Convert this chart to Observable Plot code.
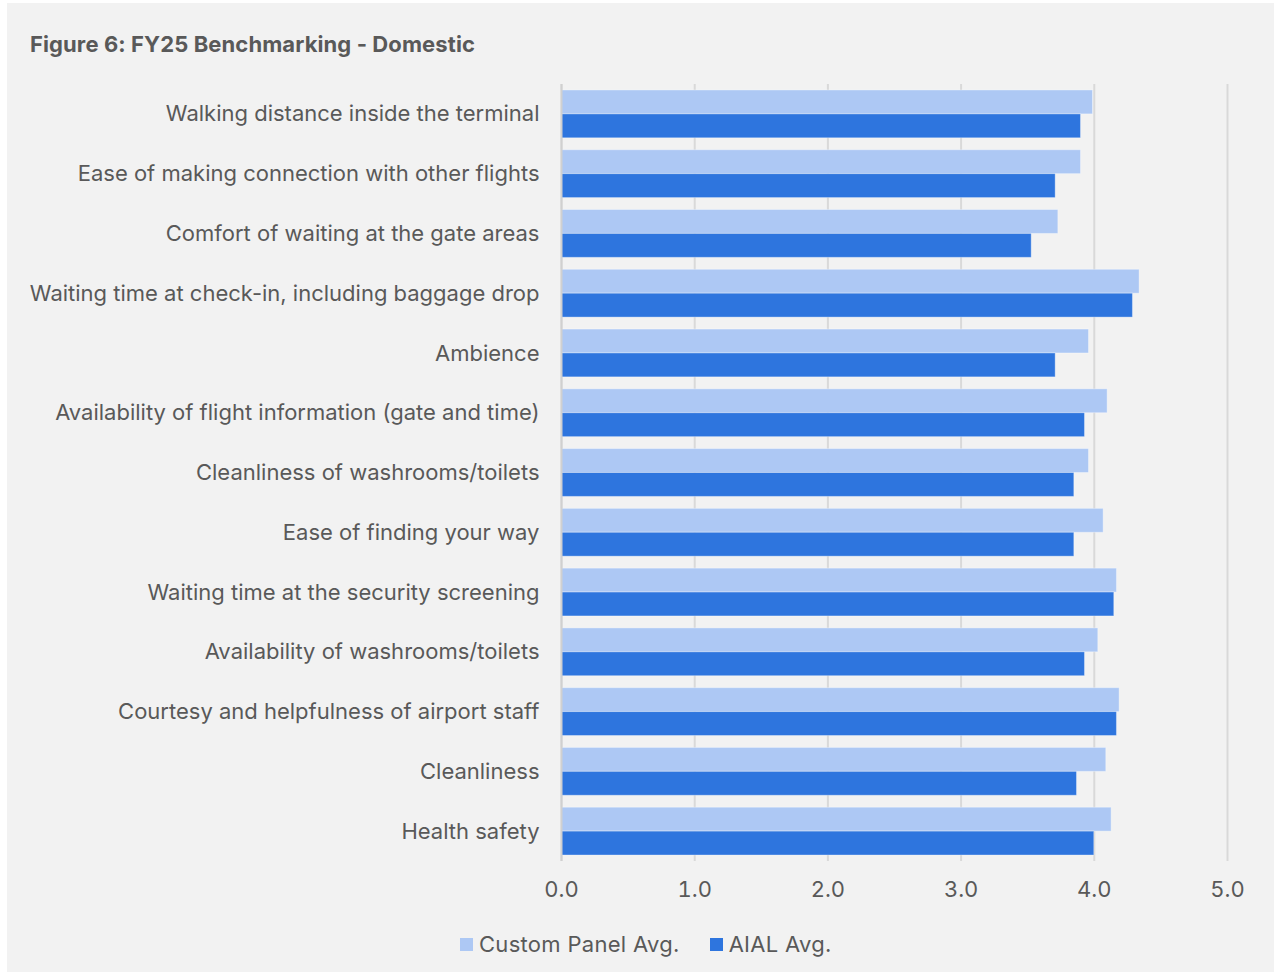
<!DOCTYPE html>
<html>
<head>
<meta charset="utf-8">
<script src="https://cdn.jsdelivr.net/npm/d3@7"></script>
<script src="https://cdn.jsdelivr.net/npm/@observablehq/plot@0.6"></script>
<style>
  html, body { margin: 0; padding: 0; background: #ffffff; }
  #panel { position: absolute; left: 7px; top: 3px; width: 1267px; height: 969px; background: #f2f2f2; font-family: Inter, "Noto Sans", sans-serif; color: #595959; }
  #title { position: absolute; left: 23px; top: 28px; font-size: 22px; font-weight: 700; color: #595959; letter-spacing: 0.1px; }
  #chart { position: absolute; left: 0; top: 57px; }
  #legend { position: absolute; left: 453px; top: 928px; font-size: 22px; display: flex; align-items: center; color: #595959; letter-spacing: 0.3px; }
  .sw { display: inline-block; width: 13px; height: 13px; margin-right: 6px; }
  .item { display: flex; align-items: center; margin-right: 30px; }
</style>
</head>
<body>
<div id="panel">
  <div id="title">Figure 6: FY25 Benchmarking - Domestic</div>
  <div id="chart"></div>
  <div id="legend"></div>
</div>
<script>
const categories = [
  "Walking distance inside the terminal",
  "Ease of making connection with other flights",
  "Comfort of waiting at the gate areas",
  "Waiting time at check-in, including baggage drop",
  "Ambience",
  "Availability of flight information (gate and time)",
  "Cleanliness of washrooms/toilets",
  "Ease of finding your way",
  "Waiting time at the security screening",
  "Availability of washrooms/toilets",
  "Courtesy and helpfulness of airport staff",
  "Cleanliness",
  "Health safety"
];
const customPanelAvg = [3.99, 3.90, 3.73, 4.34, 3.96, 4.10, 3.96, 4.07, 4.17, 4.03, 4.19, 4.09, 4.13];
const aialAvg        = [3.90, 3.71, 3.53, 4.29, 3.71, 3.93, 3.85, 3.85, 4.15, 3.93, 4.17, 3.87, 4.00];
const seriesNames = ["Custom Panel Avg.", "AIAL Avg."];
const seriesColors = ["#adc8f4", "#2e75de"];
const xTicks = [0, 1, 2, 3, 4, 5];

const rows = categories.map((c, i) => ({category: c, custom: customPanelAvg[i], aial: aialAvg[i]}));

const width = 1267, height = 851;
const marginTop = 24, marginBottom = 50, marginLeft = 554, marginRight = 47;
const padInner = 0.2, padOuter = 0.1;
const step = (height - marginTop - marginBottom) / (categories.length - padInner + 2 * padOuter);
const half = step * (1 - padInner) / 2;

const chart = Plot.plot({
  width, height, marginTop, marginBottom, marginLeft, marginRight,
  style: {background: "transparent", color: "#595959", fontFamily: "Inter, 'Noto Sans', sans-serif"},
  x: {domain: [0, 5], ticks: xTicks, tickFormat: d3.format(".1f")},
  y: {domain: categories, paddingInner: padInner, paddingOuter: padOuter, round: false},
  marks: [
    Plot.gridX(xTicks, {stroke: "#d9d9d9", strokeOpacity: 1, strokeWidth: 2}),
    Plot.barX(rows, {y: "category", x: "custom", fill: seriesColors[0], insetBottom: half, stroke: "#ffffff", strokeOpacity: 0.35, strokeWidth: 1}),
    Plot.barX(rows, {y: "category", x: "aial", fill: seriesColors[1], insetTop: half, stroke: "#ffffff", strokeOpacity: 0.35, strokeWidth: 1}),
    Plot.ruleX([0], {stroke: "#d0d0d0", strokeWidth: 2}),
    Plot.axisY({tickSize: 0, tickPadding: 22, fontSize: 22, label: null}),
    Plot.axisX(xTicks, {tickSize: 0, tickPadding: 20, fontSize: 22, label: null, tickFormat: d3.format(".1f")})
  ]
});
document.getElementById("chart").appendChild(chart);

const legend = document.getElementById("legend");
seriesNames.forEach((n, i) => {
  const it = document.createElement("div");
  it.className = "item";
  const sw = document.createElement("span");
  sw.className = "sw";
  sw.style.background = seriesColors[i];
  const t = document.createElement("span");
  t.textContent = n;
  it.appendChild(sw); it.appendChild(t);
  legend.appendChild(it);
});
</script>
</body>
</html>
